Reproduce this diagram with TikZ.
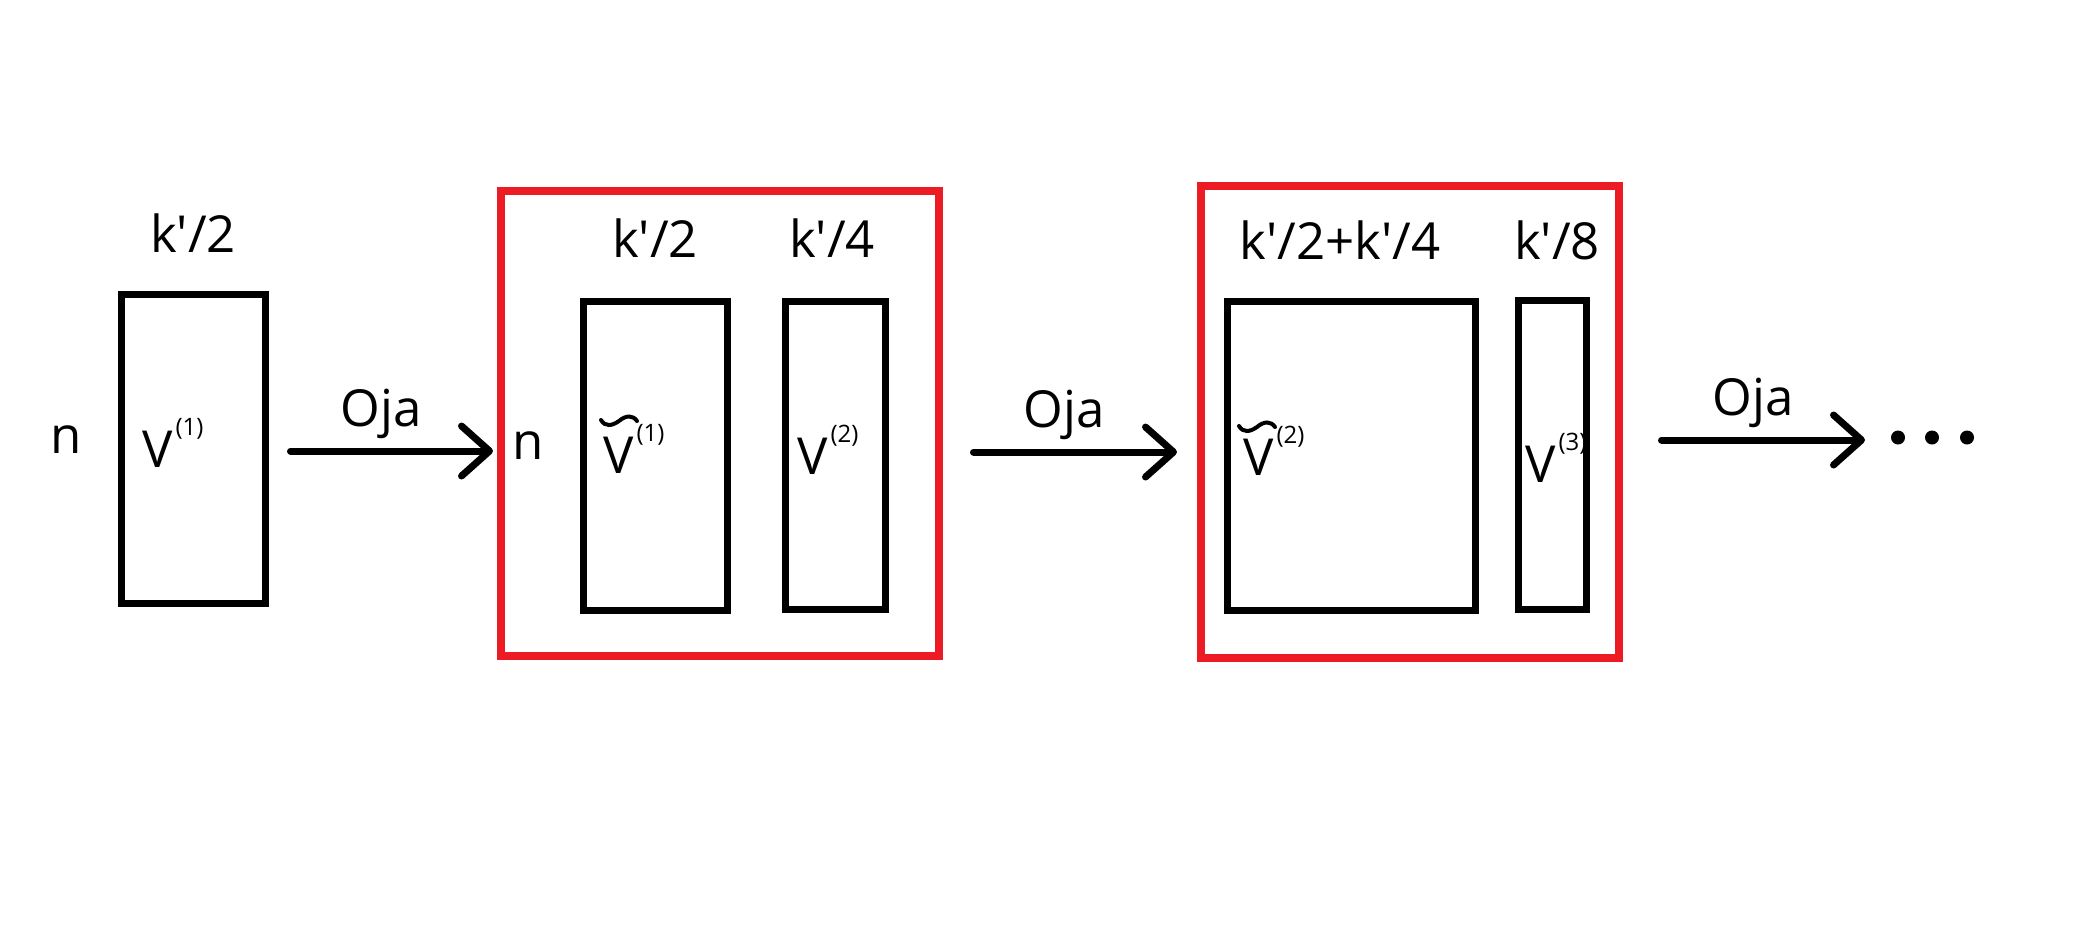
\documentclass[tikz,border=0pt]{standalone}
\usepackage{fontspec}
\setmainfont{Open Sans}[Ligatures=TeXOff]
\usetikzlibrary{arrows.meta}
\definecolor{pred}{RGB}{237,28,36}
\newcommand{\supr}[1]{\kern3pt\raisebox{32pt}{\fontsize{24}{24}\selectfont(#1)}}
\begin{document}
\begin{tikzpicture}[x=1pt,y=-1pt,
  mat/.style={draw=black, line width=7pt, inner sep=0pt, outer sep=0pt},
  grp/.style={draw=pred, line width=8pt, inner sep=0pt, outer sep=0pt},
  lbl/.style={font=\fontsize{51}{60}\selectfont, inner sep=0pt, anchor=base},
  vlbl/.style={font=\fontsize{51}{60}\selectfont, inner sep=0pt, anchor=base west},
  oja/.style={line width=7pt, line cap=round, -{Straight Barb[length=28pt,width=50pt,round]}},
  til/.style={line width=4pt, line cap=round}]
\useasboundingbox (0,0) rectangle (2098,924);
% matrices
\node[mat, minimum width=144pt, minimum height=309pt] (v1) at (193.5,449) {};
\node[grp, minimum width=438pt, minimum height=465pt] (g1) at (720,423.5) {};
\node[mat, minimum width=144pt, minimum height=309pt] (vt1) at (655.5,456) {};
\node[mat, minimum width=100pt, minimum height=308pt] (v2) at (835.5,455.5) {};
\node[grp, minimum width=418pt, minimum height=472pt] (g2) at (1410,422) {};
\node[mat, minimum width=248pt, minimum height=309pt] (vt2) at (1351.5,456) {};
\node[mat, minimum width=68pt, minimum height=309pt] (v3) at (1552.5,455) {};
% labels
\node[lbl] (k1) at (193,252) {k'/2};
\node[lbl] (n1) at (66,453) {n};
\node[lbl] (o1) at (381,426) {Oja};
\node[lbl] (n2) at (528,459) {n};
\node[lbl] (k2) at (655,257) {k'/2};
\node[lbl] (k3) at (832,257) {k'/4};
\node[lbl] (o2) at (1064,427) {Oja};
\node[lbl] (k4) at (1340,259) {k'/2+k'/4};
\node[lbl] (k5) at (1557,259) {k'/8};
\node[lbl] (o3) at (1753,415) {Oja};
% matrix names
\node[vlbl] (lv1) at (142,467) {V\supr{1}};
\node[vlbl] (lvt1) at (603,473.5) {V\supr{1}};
\node[vlbl] (lv2) at (797,474) {V\supr{2}};
\node[vlbl] (lvt2) at (1243,475) {V\supr{2}};
\node[vlbl] (lv3) at (1525,482) {V\supr{3}};
% tildes
\draw[til] (601,420) .. controls (605,427) and (612,426) .. (619,421) .. controls (626,415) and (633,415) .. (637,421);
\draw[til] (1239,426) .. controls (1243,433) and (1250,432) .. (1257,427) .. controls (1264,421) and (1271,421) .. (1275,427);
% arrows
\coordinate (a1s) at (290.5,451);
\coordinate (a1e) at (493,451);
\coordinate (a2s) at (973.5,452);
\coordinate (a2e) at (1177,452);
\coordinate (a3s) at (1661.5,440);
\coordinate (a3e) at (1865,440);
\draw[oja] (a1s) -- (a1e);
\draw[oja] (a2s) -- (a2e);
\draw[oja] (a3s) -- (a3e);
% dots
\fill (1898,437.5) circle (7);
\fill (1932,437.5) circle (7);
\fill (1967,437.5) circle (7);
\end{tikzpicture}
\end{document}
